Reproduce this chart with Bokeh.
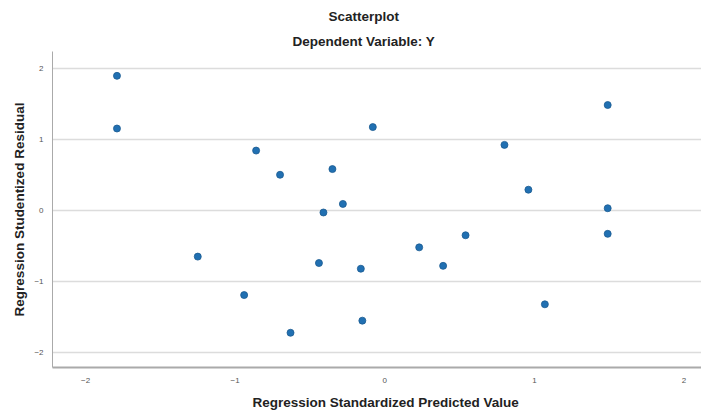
from bokeh.plotting import figure
from bokeh.models import Title, FixedTicker
from bokeh.embed import file_html
from bokeh.resources import INLINE

# Data
x_pred = [-1.79, -1.79, -0.08, -0.86, -0.70, -0.35, -0.28, -0.41, -1.25, -0.44,
          -0.16, -0.94, -0.15, -0.63, 1.49, 0.80, 0.96, 1.49, 1.49, 0.54,
          0.23, 0.39, 1.07]
y_resid = [1.89, 1.15, 1.17, 0.84, 0.50, 0.58, 0.09, -0.03, -0.65, -0.74,
           -0.82, -1.19, -1.55, -1.72, 1.48, 0.92, 0.29, 0.03, -0.33, -0.35,
           -0.52, -0.78, -1.32]
ticks = [-2, -1, 0, 1, 2]

title_text = "Scatterplot"
subtitle_text = "Dependent Variable: Y"
x_label = "Regression Standardized Predicted Value"
y_label = "Regression Studentized Residual"

FONT = "Liberation Sans"
BIG = "13.5px"

p = figure(frame_width=649, frame_height=316, x_range=(-2.221, 2.117), y_range=(-2.208, 2.232),
           output_backend="svg", toolbar_location=None,
           min_border_left=0, min_border_right=0, min_border_top=0, min_border_bottom=0)
p.title = None
p.add_layout(Title(text=subtitle_text, align="left", offset=240, text_font=FONT,
                   text_font_size=BIG, text_font_style="bold", text_color="#222222",
                   standoff=5), "above")
p.add_layout(Title(text=title_text, align="left", offset=276, text_font=FONT,
                   text_font_size=BIG, text_font_style="bold", text_color="#222222",
                   standoff=12), "above")

p.outline_line_color = None
p.background_fill_color = "white"
p.border_fill_color = "white"

p.scatter(x_pred, y_resid, size=7, fill_color="#2170b2", line_color="#1b5a91", line_width=0.8)

for ax in (p.xaxis[0], p.yaxis[0]):
    ax.ticker = FixedTicker(ticks=ticks)
    ax.major_tick_line_color = None
    ax.minor_tick_line_color = None
    ax.major_label_text_font = FONT
    ax.major_label_text_font_size = "8px"
    ax.major_label_text_color = "#555555"
    ax.axis_label_text_font = FONT
    ax.axis_label_text_font_size = BIG
    ax.axis_label_text_font_style = "bold"
    ax.axis_label_text_color = "#222222"
    ax.axis_line_color = "#aaaaaa"

p.yaxis.axis_label = y_label
p.xaxis.axis_line_width = 2
p.yaxis.axis_line_width = 1
p.xaxis.major_label_standoff = 4
p.yaxis.major_label_standoff = 3
p.yaxis.axis_label_standoff = 4

# spacer to the left of the y-axis label
p.add_layout(Title(text=" ", text_font_size="1px", standoff=6), "left")

p.add_layout(Title(text=x_label, align="left", offset=200, text_font=FONT,
                   text_font_size=BIG, text_font_style="bold", text_color="#222222",
                   standoff=14), "below")

p.xgrid.grid_line_color = None
p.ygrid.ticker = FixedTicker(ticks=ticks)
p.ygrid.grid_line_color = "#dcdcdc"
p.ygrid.grid_line_width = 1.5

open("out.html", "w").write(file_html(p, INLINE))
